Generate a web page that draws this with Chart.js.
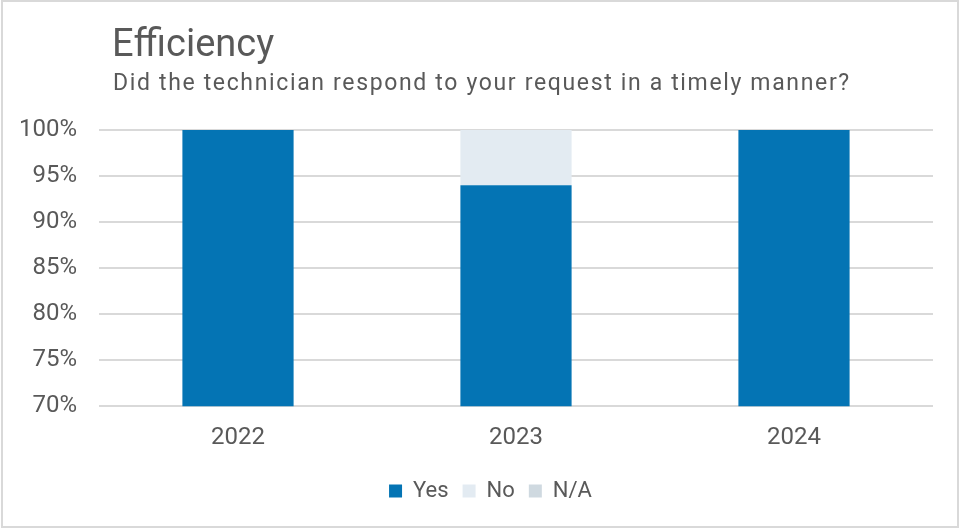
<!DOCTYPE html>
<html>
<head>
<meta charset="utf-8">
<title>Efficiency</title>
<script src="https://cdn.jsdelivr.net/npm/chart.js@4/dist/chart.umd.min.js"></script>
<style>
  html, body { margin: 0; padding: 0; background: #fff; }
  #box { position: relative; width: 960px; height: 529px; }
</style>
</head>
<body>
<div id="box"><canvas id="effChart" width="960" height="529"></canvas></div>
<script>
// survey answers, percent of responses per year
const years = ['2022', '2023', '2024'];
const yesPct = [100, 94, 100];
const noPct = [0, 6, 0];
const naPct = [0, 0, 0];
const yTicks = [70, 75, 80, 85, 90, 95, 100];

const TITLE = 'Efficiency';
const SUBTITLE = 'Did the technician respond to your request in a timely manner?';
const TEXT_COLOR = '#595959';
const FONT = 'Roboto, "Noto Sans", sans-serif';

// frame + heading drawn straight on the canvas
const headerPlugin = {
    id: 'header',
    afterLayout(chart) {
        // nudge the legend a bit to the right
        const lg = chart.legend;
        lg.left += 14;
        lg.right += 14;
    },
    beforeDraw(chart) {
        const ctx = chart.ctx;
        ctx.save();
        ctx.fillStyle = '#fff';
        ctx.fillRect(0, 0, chart.width, chart.height);
        ctx.strokeStyle = '#d9d9d9';
        ctx.lineWidth = 2;
        ctx.strokeRect(2, 1, chart.width - 4, chart.height - 3);
        ctx.restore();
    },
    afterDraw(chart) {
        const ctx = chart.ctx;
        ctx.save();
        ctx.fillStyle = TEXT_COLOR;
        ctx.textBaseline = 'alphabetic';
        ctx.textAlign = 'left';
        ctx.font = '38px ' + FONT;
        ctx.fillText(TITLE, 112, 56);
        ctx.font = '23px ' + FONT;
        ctx.letterSpacing = '1.65px';
        ctx.fillText(SUBTITLE, 113, 90);
        ctx.restore();
    }
};

const ctx = document.getElementById('effChart').getContext('2d');
const myChart = new Chart(ctx, {
    type: 'bar',
    data: {
        labels: years,
        datasets: [
            { label: 'Yes', data: yesPct, backgroundColor: '#0474b4' },
            { label: 'No', data: noPct, backgroundColor: '#e3ebf2' },
            { label: 'N/A', data: naPct, backgroundColor: '#cfd9e0' }
        ]
    },
    options: {
        responsive: false,
        animation: false,
        datasets: { bar: { categoryPercentage: 1, barPercentage: 0.4 } },
        layout: { padding: { top: 130, left: 20, right: 27, bottom: 17 } },
        scales: {
            x: {
                stacked: true,
                afterFit(axis) { axis.height += 5; },
                grid: { display: false },
                border: { display: false },
                ticks: { color: TEXT_COLOR, font: { family: FONT, size: 24 }, padding: 9 }
            },
            y: {
                stacked: true,
                min: 70,
                max: 100,
                afterBuildTicks(axis) { axis.ticks = yTicks.map(v => ({ value: v })); },
                afterFit(axis) { axis.width = 79; },
                grid: { color: '#d9d9d9', lineWidth: 2, drawTicks: false },
                border: { display: false },
                ticks: {
                    color: TEXT_COLOR,
                    font: { family: FONT, size: 24 },
                    padding: 22,
                    callback: v => v + '%'
                }
            }
        },
        plugins: {
            legend: {
                position: 'bottom',
                labels: {
                    color: TEXT_COLOR,
                    font: { family: FONT, size: 22 },
                    boxWidth: 13,
                    boxHeight: 13,
                    padding: 14
                }
            },
            tooltip: { enabled: false }
        }
    },
    plugins: [headerPlugin]
});
</script>
</body>
</html>
